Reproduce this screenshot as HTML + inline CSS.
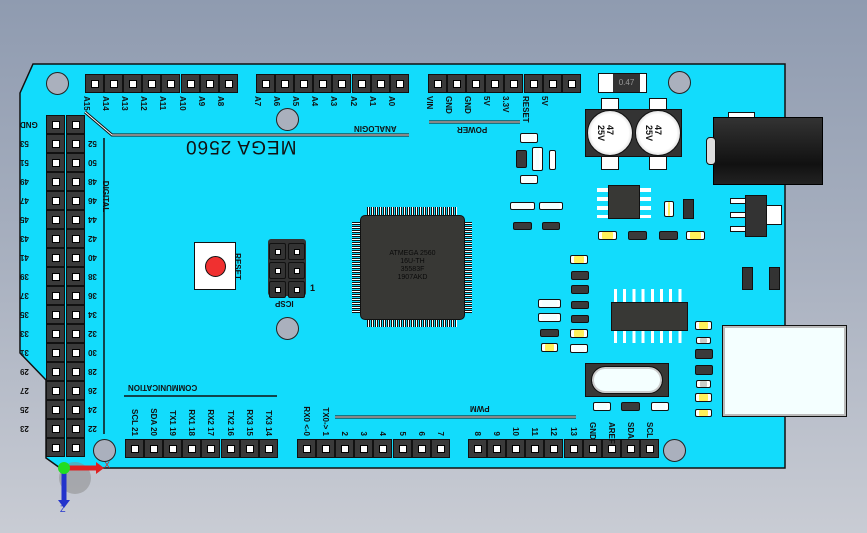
<!DOCTYPE html>
<html><head><meta charset="utf-8">
<style>
*{margin:0;padding:0;box-sizing:border-box}
body{width:867px;height:533px;overflow:hidden;position:relative;background:linear-gradient(180deg,#8f9bb0 0%,#a9b1c0 50%,#c9ccd4 100%);font-family:"Liberation Sans",sans-serif}
.a{position:absolute}
.pin{position:absolute;width:19px;height:19px;border:1px solid #111;background:#3a3a3a}
.pin i{position:absolute;left:5px;top:5px;width:8px;height:8px;background:#fff;border:1px solid #000}
.hole{position:absolute;border-radius:50%;background:#aab0bd;border:1px solid #222}
.lbl{position:absolute;font-size:9px;font-weight:bold;color:#111;white-space:nowrap;line-height:9px}
.smd{position:absolute;border:1px solid #111;border-radius:2px}
.wl{position:absolute;background:#fff;border:1px solid #111}
</style></head><body>
<svg class="a" style="left:0;top:0" width="867" height="533">
<polygon points="33,64 785,64 785,468 60,468 46,458 46,380 20,353 20,93" fill="#12dcfc" stroke="#111" stroke-width="1.5"/>
<circle cx="75" cy="478" r="16" fill="#888" opacity="0.5"/>
<line x1="64" y1="468" x2="64" y2="502" stroke="#2233cc" stroke-width="5"/>
<polygon points="58,500 70,500 64,508" fill="#2233cc"/>
<line x1="64" y1="468" x2="98" y2="468" stroke="#e02020" stroke-width="5"/>
<polygon points="96,462 104,468 96,474" fill="#e02020"/>
<circle cx="64" cy="468" r="6" fill="#22dd22"/>
<text x="60" y="512" font-size="9" fill="#2233cc" font-family="Liberation Sans">Z</text>
<text x="104" y="468" font-size="9" fill="#e02020" font-family="Liberation Sans">X</text>
<polyline points="85,112 112,135 409,135" fill="none" stroke="#111" stroke-width="3"/>
<polyline points="85,112 112,135 409,135" fill="none" stroke="#fff" stroke-width="1"/>
<line x1="429" y1="122" x2="520" y2="122" stroke="#111" stroke-width="3"/><line x1="429" y1="122" x2="520" y2="122" stroke="#fff" stroke-width="1"/>
<line x1="335" y1="417" x2="576" y2="417" stroke="#111" stroke-width="3"/><line x1="335" y1="417" x2="576" y2="417" stroke="#fff" stroke-width="1"/>
<line x1="104" y1="138" x2="104" y2="434" stroke="#111" stroke-width="1.5"/>
<line x1="124" y1="396" x2="277" y2="396" stroke="#111" stroke-width="1.5"/>
</svg>
<div class="hole" style="left:46px;top:72px;width:23px;height:23px"></div>
<div class="hole" style="left:276px;top:108px;width:23px;height:23px"></div>
<div class="hole" style="left:668px;top:71px;width:23px;height:23px"></div>
<div class="hole" style="left:276px;top:317px;width:23px;height:23px"></div>
<div class="hole" style="left:93px;top:439px;width:23px;height:23px"></div>
<div class="hole" style="left:663px;top:439px;width:23px;height:23px"></div>
<!-- ICSP -->
<div class="a" style="left:268px;top:239px;width:38px;height:57px;background:#333;border-radius:3px"></div>
<div id="pins"></div>
<div class="lbl" style="left:185px;top:137px;font-size:19px;font-weight:normal;line-height:19px;transform:rotate(180deg);letter-spacing:1px">MEGA 2560</div>
<div class="lbl" style="left:354px;top:124px;transform:rotate(180deg);font-size:8px">ANALOGIN</div>
<div class="lbl" style="left:457px;top:125px;transform:rotate(180deg);font-size:8px">POWER</div>
<div class="lbl" style="left:128px;top:383px;transform:rotate(180deg);font-size:8px">COMMUNICATION</div>
<div class="lbl" style="left:470px;top:404px;transform:rotate(180deg);font-size:8px">PWM</div>
<div class="lbl" style="left:90px;top:192px;transform:rotate(90deg);font-size:8px">DIGITAL</div>
<!-- reset -->
<div class="a" style="left:194px;top:242px;width:42px;height:48px;background:#fff;border:1px solid #111"></div>
<div class="a" style="left:205px;top:256px;width:21px;height:21px;border-radius:50%;background:#f03030;border:1px solid #111"></div>
<div class="lbl" style="left:224px;top:262px;transform:rotate(90deg);font-size:8px">RESET</div>
<div class="lbl" style="left:275px;top:299px;transform:rotate(180deg);font-size:8px">ICSP</div>
<div class="lbl" style="left:310px;top:284px">1</div>
<!-- chip -->
<div class="a" style="left:352px;top:222px;width:120px;height:92px;background:repeating-linear-gradient(180deg,#111 0 1px,#fff 1px 2px,#111 2px 3px,transparent 3px 4px)"></div>
<div class="a" style="left:367px;top:207px;width:90px;height:120px;background:repeating-linear-gradient(90deg,#111 0 1px,#fff 1px 2px,#111 2px 3px,transparent 3px 4px)"></div>
<div class="a" style="left:360px;top:215px;width:105px;height:105px;background:#383835;border:1px solid #111;border-radius:5px"></div>
<div class="a" style="left:360px;top:250px;width:105px;text-align:center;font-size:7px;line-height:8px;color:#0a0a0a">ATMEGA 2560<br>16U-TH<br>35583F<br>1907AKD</div>
<!-- top right -->
<div class="a" style="left:598px;top:73px;width:49px;height:20px;background:#fff;border:1px solid #111"></div>
<div class="a" style="left:613px;top:74px;width:27px;height:18px;background:#333;color:#999;font-size:8px;text-align:center;line-height:18px">0.47</div>
<div class="wl" style="left:601px;top:98px;width:18px;height:72px"></div>
<div class="wl" style="left:649px;top:98px;width:18px;height:72px"></div>
<div class="a" style="left:585px;top:109px;width:97px;height:48px;background:#333;border:1px solid #111"></div>
<div class="a" style="left:587px;top:110px;width:46px;height:46px;border-radius:50%;background:radial-gradient(#fff 60%,#999);border:1px solid #111"></div>
<div class="a" style="left:635px;top:110px;width:46px;height:46px;border-radius:50%;background:radial-gradient(#fff 60%,#999);border:1px solid #111"></div>
<div class="lbl" style="left:597px;top:124px;font-size:9px;transform:rotate(90deg)">47<br>25V</div>
<div class="lbl" style="left:645px;top:124px;font-size:9px;transform:rotate(90deg)">47<br>25V</div>
<div class="wl" style="left:728px;top:112px;width:27px;height:8px"></div>
<div class="a" style="left:713px;top:117px;width:110px;height:68px;background:linear-gradient(180deg,#333,#111 70%,#222);border:1px solid #000"></div>
<div class="a" style="left:706px;top:137px;width:10px;height:28px;background:#ddd;border:1px solid #111;border-radius:4px"></div>
<div id="smd"></div>
<!-- SOIC8 -->
<div class="a" style="left:597px;top:186px;width:54px;height:32px;background:repeating-linear-gradient(180deg,transparent 0 2px,#fff 2px 6px,transparent 6px 9px)"></div>
<div class="a" style="left:608px;top:185px;width:32px;height:34px;background:#383835;border:1px solid #111"></div>
<div class="a" style="left:683px;top:199px;width:11px;height:20px;background:#333;border:1px solid #111"></div>
<!-- regulator -->
<div class="wl" style="left:730px;top:198px;width:16px;height:6px"></div>
<div class="wl" style="left:730px;top:212px;width:16px;height:6px"></div>
<div class="wl" style="left:730px;top:226px;width:16px;height:6px"></div>
<div class="wl" style="left:765px;top:205px;width:17px;height:20px"></div>
<div class="a" style="left:745px;top:195px;width:22px;height:42px;background:#333;border:1px solid #111"></div>
<!-- SOIC16 -->
<div class="a" style="left:614px;top:289px;width:70px;height:54px;background:repeating-linear-gradient(90deg,#fff 0 3px,transparent 3px 9.2px)"></div>
<div class="a" style="left:611px;top:302px;width:77px;height:29px;background:#383835;border:1px solid #111"></div>
<!-- crystal -->
<div class="a" style="left:585px;top:363px;width:84px;height:34px;background:#383835;border:1px solid #111"></div>
<div class="a" style="left:592px;top:367px;width:70px;height:26px;background:#f4ffff;border:2px solid #ccc;outline:1px solid #111;border-radius:13px"></div>
<div class="a" style="left:742px;top:267px;width:11px;height:23px;background:#333;border:1px solid #111"></div>
<div class="a" style="left:769px;top:267px;width:11px;height:23px;background:#333;border:1px solid #111"></div>
<!-- USB -->
<div class="a" style="left:723px;top:326px;width:123px;height:90px;background:#f4ffff;border:2px solid #bbb;outline:1px solid #111"></div>
<script>
var P=document.getElementById('pins'),h='';
function hdr(x,y,n,horiz){for(var i=0;i<n;i++){var px=horiz?x+i*19.1:x,py=horiz?y:y+i*19;h+='<div class="pin" style="left:'+px+'px;top:'+py+'px"><i></i></div>';}}
function lbl(x,y,t,rot,fs){h+='<div class="lbl" style="left:'+x+'px;top:'+y+'px;transform-origin:0 0;transform:rotate('+rot+'deg);font-size:'+(fs||8)+'px">'+t+'</div>';}
hdr(85,74,8,1);hdr(256,74,8,1);hdr(428,74,8,1);
hdr(46,115,18,0);hdr(66,115,18,0);
hdr(125,439,8,1);hdr(297,439,8,1);hdr(468,439,10,1);
[[269,243],[288,243],[269,262],[288,262],[269,281],[288,281]].forEach(function(p){h+='<div class="a" style="left:'+p[0]+'px;top:'+p[1]+'px;width:17px;height:17px;background:#333;border:1px solid #111;border-radius:2px"><div class="a" style="left:5px;top:5px;width:6px;height:6px;background:#fff;border:1px solid #000"></div></div>'});
var t1=['A15','A14','A13','A12','A11','A10','A9','A8'],t2=['A7','A6','A5','A4','A3','A2','A1','A0'],t3=['VIN','GND','GND','5V','3.3V','RESET','5V',''];
for(var i=0;i<8;i++){lbl(91+i*19.1,96,t1[i],90);lbl(262+i*19.1,96,t2[i],90);lbl(434+i*19.1,96,t3[i],90);}
var L=['GND',53,51,49,47,45,43,41,39,37,35,33,31,29,27,25,23,''];
var R=['',52,50,48,46,44,42,40,38,36,34,32,30,28,26,24,22,''];
for(var i=0;i<18;i++){h+='<div class="lbl" style="left:20px;width:24px;text-align:right;top:'+(120+i*19)+'px;transform:rotate(180deg);font-size:8px">'+L[i]+'</div>';h+='<div class="lbl" style="left:88px;top:'+(120+i*19)+'px;transform:rotate(180deg);font-size:8px">'+R[i]+'</div>';}
var b1=['SCL 21','SDA 20','TX1 19','RX1 18','RX2 17','TX2 16','RX3 15','TX3 14'],b2=['RX0 &lt;-0','TX0-&gt; 1','2','3','4','5','6','7'],b3=['8','9','10','11','12','13','GND','AREF','SDA','SCL'];
for(var i=0;i<8;i++){h+='<div class="lbl" style="left:'+(131+i*19.1)+'px;top:402px;width:34px;text-align:right;transform-origin:0 0;transform:rotate(90deg);font-size:8px;margin-left:8px">'+b1[i]+'</div>';
h+='<div class="lbl" style="left:'+(311+i*19.1)+'px;top:402px;width:34px;text-align:right;transform-origin:0 0;transform:rotate(90deg);font-size:8px">'+b2[i]+'</div>';}
for(var i=0;i<10;i++){h+='<div class="lbl" style="left:'+(482+i*19.1)+'px;top:422px;width:14px;text-align:right;transform-origin:0 0;transform:rotate(90deg);font-size:8px">'+b3[i]+'</div>';}
P.innerHTML=h;
var S='',c={w:'#f6ffff',d:'#3a3a3a',y:'#fff15a',g:'#c8ccc8'};
function s(x1,y1,x2,y2,k){S+='<div class="smd" style="left:'+x1+'px;top:'+y1+'px;width:'+(x2-x1)+'px;height:'+(y2-y1)+'px;background:'+c[k]+';'+(k!='d'?'box-shadow:inset 3px 0 #fff,inset -3px 0 #fff':'')+'"></div>';}
[[520,133,538,143,'w'],[516,150,527,168,'d'],[532,147,543,171,'w'],[549,150,556,170,'w'],[520,175,538,184,'w'],[510,202,535,210,'w'],[539,202,563,210,'w'],[513,222,532,230,'d'],[542,222,560,230,'d'],
[664,201,674,217,'y'],[598,231,617,240,'y'],[628,231,647,240,'d'],[659,231,678,240,'d'],[686,231,705,240,'y'],
[570,255,588,264,'y'],[571,271,589,280,'d'],[571,285,589,294,'d'],[571,301,589,309,'d'],[571,315,589,323,'d'],[570,329,588,338,'y'],[570,344,588,353,'w'],[538,299,561,308,'w'],[538,313,561,322,'w'],[540,329,559,337,'d'],[541,343,558,352,'y'],
[593,402,611,411,'w'],[621,402,640,411,'d'],[651,402,669,411,'w'],
[695,321,712,330,'y'],[696,337,711,344,'g'],[695,349,713,359,'d'],[695,365,713,375,'d'],[696,380,711,388,'g'],[695,393,712,402,'y'],[695,409,712,417,'y']].forEach(function(a){s.apply(null,a)});
document.getElementById('smd').innerHTML=S;
</script>
</body></html>
